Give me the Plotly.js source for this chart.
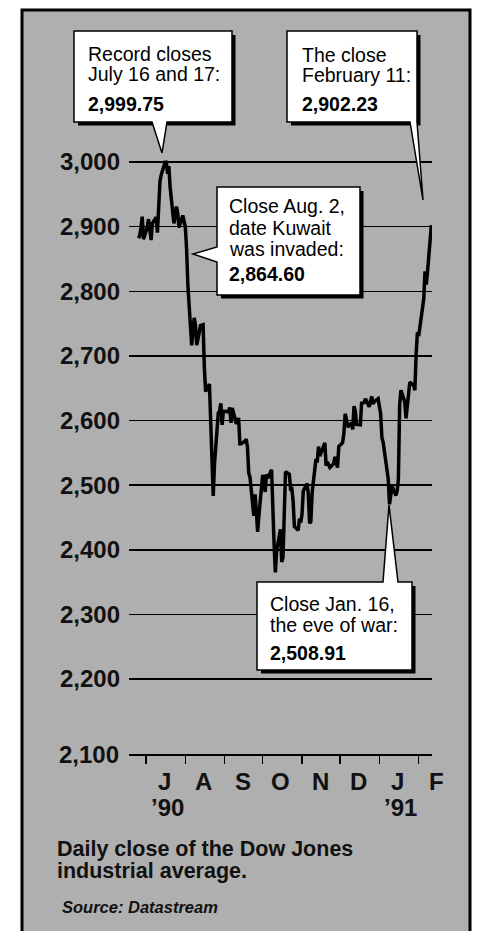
<!DOCTYPE html>
<html><head><meta charset="utf-8">
<script src="https://cdn.plot.ly/plotly-3.0.1.min.js"></script>
<style>html,body{margin:0;padding:0;background:#fff;overflow:hidden}#chart{width:487px;height:931px}</style>
</head><body><div id="chart"></div>
<script>
// ---------- data ----------
const tradeDates = [
'1990-06-25','1990-06-26','1990-06-27','1990-06-28','1990-06-29',
'1990-07-02','1990-07-03','1990-07-05','1990-07-06','1990-07-09','1990-07-10','1990-07-11','1990-07-12','1990-07-13',
'1990-07-16','1990-07-17','1990-07-18','1990-07-19','1990-07-20','1990-07-23','1990-07-24','1990-07-25','1990-07-26','1990-07-27','1990-07-30','1990-07-31',
'1990-08-01','1990-08-02','1990-08-03','1990-08-06','1990-08-07','1990-08-08','1990-08-09','1990-08-10','1990-08-13','1990-08-14','1990-08-15','1990-08-16','1990-08-17',
'1990-08-20','1990-08-21','1990-08-22','1990-08-23','1990-08-24','1990-08-27','1990-08-28','1990-08-29','1990-08-30','1990-08-31',
'1990-09-04','1990-09-05','1990-09-06','1990-09-07','1990-09-10','1990-09-11','1990-09-12','1990-09-13','1990-09-14','1990-09-17','1990-09-18','1990-09-19','1990-09-20','1990-09-21',
'1990-09-24','1990-09-25','1990-09-26','1990-09-27','1990-09-28',
'1990-10-01','1990-10-02','1990-10-03','1990-10-04','1990-10-05','1990-10-08','1990-10-09','1990-10-10','1990-10-11','1990-10-12','1990-10-15','1990-10-16','1990-10-17','1990-10-18','1990-10-19',
'1990-10-22','1990-10-23','1990-10-24','1990-10-25','1990-10-26','1990-10-29','1990-10-30','1990-10-31',
'1990-11-01','1990-11-02','1990-11-05','1990-11-06','1990-11-07','1990-11-08','1990-11-09','1990-11-12','1990-11-13','1990-11-14','1990-11-15','1990-11-16',
'1990-11-19','1990-11-20','1990-11-21','1990-11-23','1990-11-26','1990-11-27','1990-11-28','1990-11-29','1990-11-30',
'1990-12-03','1990-12-04','1990-12-05','1990-12-06','1990-12-07','1990-12-10','1990-12-11','1990-12-12','1990-12-13','1990-12-14','1990-12-17','1990-12-18','1990-12-19','1990-12-20','1990-12-21',
'1990-12-24','1990-12-26','1990-12-27','1990-12-28','1990-12-31',
'1991-01-02','1991-01-03','1991-01-04','1991-01-07','1991-01-08','1991-01-09','1991-01-10','1991-01-11','1991-01-14','1991-01-15','1991-01-16','1991-01-17','1991-01-18',
'1991-01-21','1991-01-22','1991-01-23','1991-01-24','1991-01-25','1991-01-28','1991-01-29','1991-01-30','1991-01-31',
'1991-02-01','1991-02-04','1991-02-05','1991-02-06','1991-02-07','1991-02-08','1991-02-11'
];
const dailyClose = [
2882.18,2885.64,2898.03,2915.35,2880.69,
2899.26,2911.65,2879.21,2904.95,2914.85,2890.84,2932.67,2969.80,2980.20,
2999.75,2999.75,2981.68,2993.81,2961.14,2904.95,2922.52,2930.94,2920.79,2898.51,2917.33,2905.20,
2899.26,2864.60,2809.65,2716.34,2734.90,2758.91,2747.52,2716.58,2746.77,2747.77,2748.27,2681.44,2644.80,
2656.44,2603.46,2560.15,2483.42,2532.92,2611.63,2614.36,2626.73,2593.32,2614.36,
2613.37,2620.30,2596.29,2619.55,2596.78,2596.53,2603.96,2564.11,2564.11,2567.82,2571.29,2558.66,2518.32,2512.38,
2452.48,2485.64,2459.65,2427.48,2452.97,
2515.84,2505.20,2489.36,2516.83,2510.64,2523.76,2445.54,2407.92,2365.10,2398.02,2431.68,2381.19,2387.87,2452.97,2520.79,
2516.83,2494.06,2494.55,2474.75,2436.14,2430.20,2448.02,2442.33,
2454.95,2490.84,2502.48,2485.15,2440.84,2443.81,2488.61,2540.35,2535.40,2559.65,2545.05,2550.25,
2565.35,2530.20,2535.64,2527.23,2533.17,2543.81,2535.15,2527.23,2559.65,
2565.59,2579.70,2610.40,2602.48,2590.10,2596.04,2586.14,2622.28,2614.85,2593.81,2593.32,2626.73,2626.73,2627.72,2633.66,
2621.29,2637.13,2625.74,2629.21,2633.66,
2610.64,2573.51,2566.09,2522.77,2509.41,2470.30,2490.59,2498.76,2483.91,2490.59,2508.91,2623.51,2646.78,
2629.21,2603.22,2619.06,2643.07,2659.41,2654.46,2646.78,2702.72,2736.39,
2730.69,2772.28,2788.37,2830.69,2810.15,2830.94,2902.23
];
const yTickValues = [2200,2300,2400,2500,2600,2700,2800,2900,3000];
const baselineLabel = '2,100';
const monthStarts = ['1990-07-01','1990-08-01','1990-09-01','1990-10-01','1990-11-01','1990-12-01','1991-01-01','1991-02-01'];
const monthLetters = ['J','A','S','O','N','D','J','F'];
const yearMonths = ['1990-07-01','1991-01-01'];
const yearLabels = ['\u201990','\u201991'];
const calloutLines = [
  ['Record closes','July 16 and 17:'],
  ['The close','February 11:'],
  ['Close Aug. 2,','date Kuwait','was invaded:'],
  ['Close Jan. 16,','the eve of war:']
];
const calloutValues = ['2,999.75','2,902.23','2,864.60','2,508.91'];
const captionLines = ['Daily close of the Dow Jones','industrial average.'];
const sourceText = 'Source: Datastream';

// ---------- layout geometry (pixels -> paper) ----------
const W = 487, H = 931, ML = 129, MR = 55, MT = 150, MB = 177;
const PW = W - ML - MR, PH = H - MT - MB;
const X = p => (p - ML) / PW;
const Y = p => (H - MB - p) / PH;
const FONT = 'Liberation Sans, Arial, Helvetica, sans-serif';
const GRAY = '#afafaf';

const boxes = [
  {x0:74,y0:31,x1:232,y1:122, side:'bottom', pb:[152,167], tip:[162,153], tx:86, ty:[54,74], vy:104},
  {x0:287,y0:31,x1:417,y1:122, side:'bottomright', tip:[423,200], base:410, tx:300, ty:[55,75], vy:104},
  {x0:217,y0:187,x1:360,y1:295, side:'left', pb:[247,262], tip:[193,254], tx:227, ty:[206,228,249], vy:274},
  {x0:257,y0:582,x1:412,y1:670, side:'top', pb:[383,398], tip:[389,505], tx:268, ty:[604,625], vy:653}
];
function P(pts){
  return 'M ' + pts.map(p => X(p[0]).toFixed(5)+' '+Y(p[1]).toFixed(5)).join(' L ') + ' Z';
}
function boxPath(b){
  let pts;
  if(b.side==='bottom'){
    pts=[[b.x0,b.y0],[b.x1,b.y0],[b.x1,b.y1],[b.pb[1],b.y1],b.tip,[b.pb[0],b.y1],[b.x0,b.y1]];
  } else if(b.side==='bottomright'){
    pts=[[b.x0,b.y0],[b.x1,b.y0],[b.x1,b.y1],b.tip,[b.base,b.y1],[b.x0,b.y1]];
  } else if(b.side==='left'){
    pts=[[b.x0,b.y0],[b.x1,b.y0],[b.x1,b.y1],[b.x0,b.y1],[b.x0,b.pb[1]],b.tip,[b.x0,b.pb[0]]];
  } else {
    pts=[[b.x0,b.y0],[b.pb[0],b.y0],b.tip,[b.pb[1],b.y0],[b.x1,b.y0],[b.x1,b.y1],[b.x0,b.y1]];
  }
  return P(pts);
}

const shapes = [
  {type:'rect', xref:'paper', yref:'paper', layer:'below',
   x0:X(22), x1:X(470), y0:Y(945), y1:Y(10), fillcolor:GRAY, line:{color:'#000', width:3}}
];
boxes.forEach(b=>{
  shapes.push({type:'rect', xref:'paper', yref:'paper', layer:'above',
    x0:X(b.x0+4), x1:X(b.x1+3.5), y0:Y(b.y1+3.5), y1:Y(b.y0+4), fillcolor:'#000', line:{width:0}});
  shapes.push({type:'path', xref:'paper', yref:'paper', layer:'above', path:boxPath(b),
    fillcolor:'#fff', line:{color:'#000', width:1.5}});
});

const annotations = [];
boxes.forEach((b,i)=>{
  calloutLines[i].forEach((t,j)=>{
    annotations.push({xref:'paper', yref:'paper', x:X(b.tx), y:Y(b.ty[j]), xanchor:'left', yanchor:'middle',
      text:t, showarrow:false, font:{family:FONT, size:19.5, color:'#000'}});
  });
  annotations.push({xref:'paper', yref:'paper', x:X(b.tx), y:Y(b.vy), xanchor:'left', yanchor:'middle',
    text:'<b>'+calloutValues[i]+'</b>', showarrow:false, font:{family:FONT, size:19.5, color:'#000'}});
});
// month letters centred in each month period (anchor at month start, shifted half a month)
monthLetters.forEach((m,i)=>{
  annotations.push({xref:'x', yref:'paper', x:monthStarts[i], y:Y(781), xshift:18,
    xanchor:'center', yanchor:'middle', text:'<b>'+m+'</b>', showarrow:false,
    font:{family:FONT, size:24, color:'#111'}});
});
yearLabels.forEach((t,i)=>{
  annotations.push({xref:'x', yref:'paper', x:yearMonths[i], y:Y(808), xshift:21,
    xanchor:'center', yanchor:'middle', text:'<b>'+t+'</b>', showarrow:false,
    font:{family:FONT, size:24, color:'#111'}});
});
annotations.push({xref:'paper', yref:'paper', x:0, y:0, xanchor:'right', yanchor:'middle', xshift:-8,
  text:'<b>'+baselineLabel+'</b>', showarrow:false, font:{family:FONT, size:24, color:'#111'}});
captionLines.forEach((t,i)=>{
  annotations.push({xref:'paper', yref:'paper', x:X(55), y:Y(849 + i*21.5), xanchor:'left', yanchor:'middle',
    text:'<b>'+t+'</b>', showarrow:false, font:{family:FONT, size:21.5, color:'#111'}});
});
annotations.push({xref:'paper', yref:'paper', x:X(60), y:Y(907), xanchor:'left', yanchor:'middle',
  text:'<b><i>'+sourceText+'</i></b>', showarrow:false, font:{family:FONT, size:16.5, color:'#111'}});

const trace = {type:'scatter', mode:'lines', x:tradeDates, y:dailyClose,
  line:{color:'#000', width:3.5}, hoverinfo:'skip'};

const layout = {
  width:W, height:H, margin:{l:ML, r:MR, t:MT, b:MB, pad:0},
  paper_bgcolor:'#fff', plot_bgcolor:'rgba(0,0,0,0)', showlegend:false,
  xaxis:{type:'date', range:['1990-06-17 14:00','1991-02-11 12:00'], tickmode:'array', tickvals:monthStarts,
    showticklabels:false, ticks:'outside', ticklen:8, tickwidth:1.5, tickcolor:'#000',
    showline:true, linecolor:'#000', linewidth:2, showgrid:false, zeroline:false},
  yaxis:{range:[2083.95, 3018.57], tickmode:'array', tickvals:yTickValues, tickformat:',d',
    ticks:'', ticklabelstandoff:8, showgrid:true, gridcolor:'#000', gridwidth:1.5,
    showline:false, zeroline:false, tickfont:{family:FONT, size:24, color:'#111', weight:'bold'}},
  shapes:shapes, annotations:annotations
};
Plotly.newPlot('chart', [trace], layout, {displayModeBar:false, staticPlot:true});
</script></body></html>
